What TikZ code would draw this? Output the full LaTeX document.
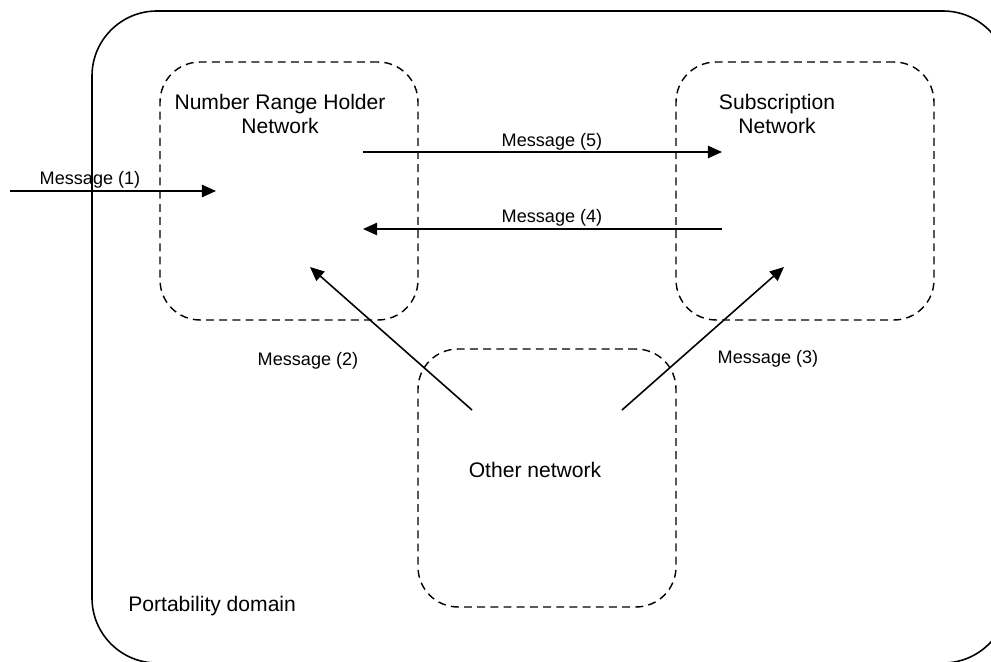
\documentclass[tikz,border=0pt]{standalone}
\usepackage{fontspec}
\setmainfont{Liberation Sans}
\usetikzlibrary{arrows.meta}

\tikzset{
  netbox/.style={draw, dashed, dash pattern=on 4.5pt off 3pt, line width=0.8pt, rounded corners=0.8cm,
    minimum width=5.16cm, minimum height=5.16cm, inner sep=0pt},
  netlabel/.style={align=center, font=\fontsize{12}{14}\selectfont, inner sep=0pt},
  msglabel/.style={font=\fontsize{10.3}{12}\selectfont, inner sep=0pt},
  msg/.style={line width=0.9pt, -{Triangle[length=8pt, width=7pt]}}
}

\begin{document}
\begin{tikzpicture}[x=0.02cm, y=-0.02cm]
  \useasboundingbox (0,0) rectangle (991,662);
  \clip (0,0) rectangle (991,662);

  % portability domain
  \draw[line width=0.9pt, rounded corners=1.3cm] (92,11) rectangle (1008,663);
  \node[netlabel, anchor=west] (domain) at (128,606) {Portability domain};

  % networks
  \node[netbox] (nrh) at (289,191) {};
  \node[netbox] (sub) at (805,191) {};
  \node[netbox] (oth) at (547,478) {};

  \node[netlabel] (nrhtxt) at (280,114) {Number Range Holder\\Network};
  \node[netlabel] (subtxt) at (777,114) {Subscription\\Network};
  \node[netlabel] (othtxt) at (535,470) {Other network};

  % message ends
  \coordinate (m1a) at (10,191);  \coordinate (m1b) at (216,191);
  \coordinate (m5a) at (363,152); \coordinate (m5b) at (722,152);
  \coordinate (m4a) at (722,229); \coordinate (m4b) at (363,229);
  \coordinate (m2a) at (472,410); \coordinate (m2b) at (310,267);
  \coordinate (m3a) at (622,410); \coordinate (m3b) at (784,267);

  \draw[msg] (m1a) -- (m1b);
  \draw[msg] (m5a) -- (m5b);
  \draw[msg] (m4a) -- (m4b);
  \draw[msg] (m2a) -- (m2b);
  \draw[msg] (m3a) -- (m3b);

  \node[msglabel] (l1) at (90,180) {Message (1)};
  \node[msglabel] (l5) at (552,142) {Message (5)};
  \node[msglabel] (l4) at (552,218) {Message (4)};
  \node[msglabel] (l2) at (308,361) {Message (2)};
  \node[msglabel] (l3) at (768,359) {Message (3)};
\end{tikzpicture}
\end{document}
